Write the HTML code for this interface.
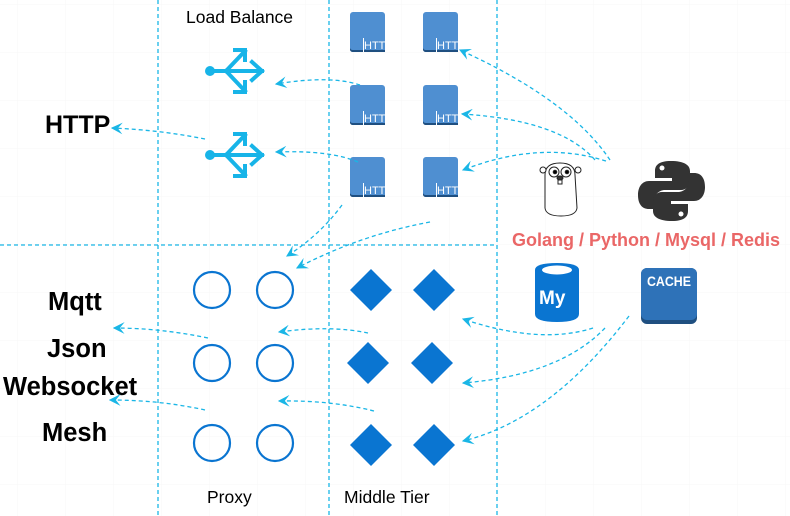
<!DOCTYPE html>
<html><head><meta charset="utf-8"><style>
html,body{margin:0;padding:0;background:#fff}
svg{display:block}
text{font-family:"Liberation Sans",sans-serif}
</style></head><body>
<svg width="790" height="516" viewBox="0 0 790 516" xmlns="http://www.w3.org/2000/svg">
<defs>
<pattern id="g" x="17" y="4" width="48" height="48" patternUnits="userSpaceOnUse">
<path d="M0 0H48M0 0V48" stroke="#f7f7f7" stroke-width="1" fill="none"/>
</pattern>
<marker id="a" viewBox="0 0 10 10" refX="9" refY="5" markerWidth="9" markerHeight="9" orient="auto">
<path d="M10 5 L0 0 L4 5 L0 10 Z" fill="#1ab6e6"/>
</marker>
<g id="lb" stroke="#17b4e8" stroke-width="4" fill="none" stroke-linecap="square">
<circle cx="0" cy="0" r="5" fill="#17b4e8" stroke="none"/>
<path d="M0 0H52M42 -9L52 0L42 9"/>
<path d="M16 0L35 -20M25 -21H35V-11"/>
<path d="M16 0L35 20M25 21H35V11"/>
</g>
<g id="ht">
<path d="M0 3a3 3 0 0 1 3-3h29a3 3 0 0 1 3 3v23h-22v14h-10a3 3 0 0 1-3-3z" fill="#4f8fd1"/>
<path d="M0 36v2a3 3 0 0 0 3 2h10v-2h-10a3 3 0 0 1-3-2z" fill="#1f4f80"/>
<rect x="13" y="26" width="22" height="14" fill="#4f8fd1"/>
<rect x="13" y="38" width="22" height="2" fill="#1f4f80"/>
<rect x="13" y="26" width="1" height="14" fill="#fff"/>
<text x="14" y="37" font-family="Liberation Serif,serif" font-size="11" fill="#fff">HTTP</text>
</g>
<g id="dm"><path d="M0 -21L21 0L0 21L-21 0Z" fill="#0a75d1"/></g>
</defs>
<rect width="790" height="516" fill="url(#g)"/>

<g stroke="#1ab6e6" stroke-width="1.3" stroke-dasharray="4 3" fill="none">
<path d="M158 0V516M329 0V516M497 0V516M0 245H497"/>
</g>

<text x="186" y="23" font-size="17.5" fill="#000">Load Balance</text>
<text x="45" y="133" font-size="25" font-weight="bold" fill="#000">HTTP</text>
<text x="48" y="310" font-size="25.5" font-weight="bold">Mqtt</text>
<text x="47" y="357" font-size="25.5" font-weight="bold">Json</text>
<text x="3" y="395" font-size="25.5" font-weight="bold">Websocket</text>
<text x="42" y="441" font-size="25.5" font-weight="bold">Mesh</text>
<text x="207" y="503" font-size="17.5">Proxy</text>
<text x="344" y="503" font-size="17.5">Middle Tier</text>

<use href="#lb" x="210" y="71"/>
<use href="#lb" x="210" y="155"/>

<use href="#ht" x="350" y="12"/><use href="#ht" x="423" y="12"/>
<use href="#ht" x="350" y="85"/><use href="#ht" x="423" y="85"/>
<use href="#ht" x="350" y="157"/><use href="#ht" x="423" y="157"/>

<g fill="none" stroke="#0a75d1" stroke-width="2.2">
<circle cx="212" cy="290" r="18"/><circle cx="275" cy="290" r="18"/>
<circle cx="212" cy="363" r="18"/><circle cx="275" cy="363" r="18"/>
<circle cx="212" cy="443" r="18"/><circle cx="275" cy="443" r="18"/>
</g>
<use href="#dm" x="371" y="290"/><use href="#dm" x="434" y="290"/>
<use href="#dm" x="368" y="363"/><use href="#dm" x="432" y="363"/>
<use href="#dm" x="371" y="445"/><use href="#dm" x="434" y="445"/>

<!-- gopher -->
<g stroke="#222" stroke-width="1" fill="#fff">
<path d="M545 175 Q545 163 560 163 Q575 163 575 175 L577 208 Q576 216 561 216 Q546 216 545 208 Z"/>
<circle cx="543" cy="170" r="3"/><circle cx="578" cy="170" r="3"/>
<circle cx="554" cy="172" r="5"/><circle cx="566" cy="172" r="5"/>
<circle cx="555" cy="172" r="1.8" fill="#000"/><circle cx="567" cy="172" r="1.8" fill="#000"/>
<ellipse cx="560" cy="178" rx="3" ry="2" fill="#333"/>
<rect x="558" y="180" width="4" height="4"/>
</g>
<!-- python -->
<g fill="#333">
<path d="M671 161 c-12 0 -16 4 -16 10 v7 h17 v3 h-23 c-7 0 -11 6 -11 14 c0 9 4 14 11 14 h5 v-8 c0-6 5-11 11-11 h16 c5 0 9-4 9-9 v-10 c0-6-6-10-19-10z"/>
<path d="M672 221 c12 0 16-4 16-10 v-7 h-17 v-3 h23 c7 0 11-6 11-14 c0-9-4-14-11-14 h-5 v8 c0 6-5 11-11 11 h-16 c-5 0-9 4-9 9 v10 c0 6 6 10 19 10z"/>
<circle cx="662" cy="168" r="2.5" fill="#fff"/><circle cx="681" cy="214" r="2.5" fill="#fff"/>
</g>
<text x="512" y="246" font-size="18" font-weight="bold" fill="#ea6767">Golang / Python / Mysql / Redis</text>
<!-- mysql -->
<path d="M535 270 Q535 263 557 263 Q579 263 579 270 V314 Q579 322 557 322 Q535 322 535 314 Z" fill="#0a75d1"/>
<ellipse cx="557" cy="270" rx="15" ry="4.5" fill="#fff"/>
<text x="539" y="304" font-size="19" font-weight="bold" fill="#fff">My</text>
<!-- cache -->
<rect x="641" y="268" width="56" height="56" rx="6" fill="#1f4f80"/>
<rect x="641" y="268" width="56" height="52" rx="6" fill="#2e72b8"/>
<text x="669" y="286" font-size="14" font-weight="bold" fill="#fff" text-anchor="middle" textLength="44" lengthAdjust="spacingAndGlyphs">CACHE</text>

<g stroke="#1ab6e6" stroke-width="1.3" stroke-dasharray="4 3" fill="none" marker-end="url(#a)">
<path d="M610 160 Q570 100 460 50"/>
<path d="M595 160 Q560 120 462 114"/>
<path d="M606 161 Q540 140 463 170"/>
<path d="M360 85 Q330 75 276 84"/>
<path d="M358 162 Q330 150 276 152"/>
<path d="M205 139 Q160 130 112 128"/>
<path d="M342 205 Q320 235 287 256"/>
<path d="M430 222 Q360 235 297 268"/>
<path d="M208 338 Q160 328 114 328"/>
<path d="M368 333 Q330 325 279 332"/>
<path d="M205 410 Q160 400 110 400"/>
<path d="M374 411 Q330 400 279 401"/>
<path d="M593 328 Q540 345 463 319"/>
<path d="M605 328 Q560 375 463 383"/>
<path d="M629 316 Q550 420 463 441"/>
</g>
</svg>
</body></html>
